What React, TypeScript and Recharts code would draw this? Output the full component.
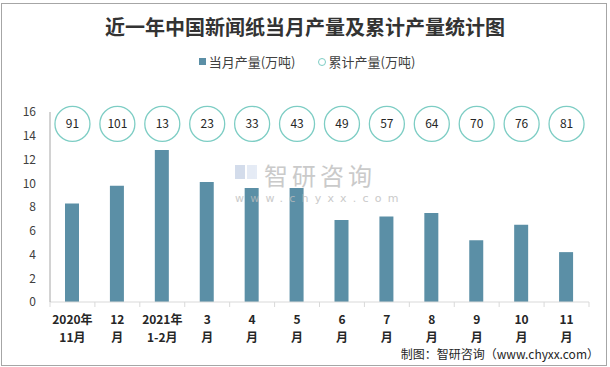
import React from 'react';
import { ComposedChart, Bar, Line, XAxis, YAxis } from 'recharts';

const MONTH_LINE1 = ['2020年', '12', '2021年', '3', '4', '5', '6', '7', '8', '9', '10', '11'];
const MONTH_LINE2 = ['11月', '月', '1-2月', '月', '月', '月', '月', '月', '月', '月', '月', '月'];
const MONTHLY = [8.3, 9.8, 12.8, 10.1, 9.6, 9.6, 6.9, 7.2, 7.5, 5.2, 6.5, 4.2];
const CUMULATIVE = [91, 101, 13, 23, 33, 43, 49, 57, 64, 70, 76, 81];
// helper row: the cumulative bubbles sit on one line near the top of the axis
const BUBBLE_ROW = 15;
const Y_TICKS = [0, 2, 4, 6, 8, 10, 12, 14, 16];

const BAR_COLOR = '#5b8fa6';
const RING_COLOR = '#7dcdc4';
const FONT = '"Noto Sans CJK SC", "Noto Sans", sans-serif';

const data = MONTH_LINE1.map((m, i) => ({
    key: String(i),
    line1: m,
    line2: MONTH_LINE2[i],
    monthly: MONTHLY[i],
    cumulative: CUMULATIVE[i],
    row: BUBBLE_ROW,
}));

// tick y comes in below the axis by tickSize + tickMargin (8px)
const MonthTick = (props: any) => {
    const { x, y, payload, index, width, visibleTicksCount } = props;
    const d = data[Number(payload.value)];
    const band = (width || 539) / (visibleTicksCount || 12);
    const left = x - band / 2;
    const ay = y - 8;
    return (
        <g>
            <line x1={left} y1={ay} x2={left} y2={ay + 5} stroke="#d9d9d9" />
            {index === data.length - 1 && (
                <line x1={x + band / 2} y1={ay} x2={x + band / 2} y2={ay + 5} stroke="#d9d9d9" />
            )}
            <text x={x} y={ay + 22} textAnchor="middle" fontSize={12} fontWeight="bold" fill="#262626" fontFamily={FONT}>
                {d.line1}
            </text>
            <text x={x} y={ay + 40} textAnchor="middle" fontSize={12} fontWeight="bold" fill="#262626" fontFamily={FONT}>
                {d.line2}
            </text>
        </g>
    );
};

const Bubble = (props: any) => {
    const { cx, cy, payload } = props;
    return (
        <g key={`b-${payload.key}`}>
            <circle cx={cx} cy={cy} r={17.5} fill="#fff" stroke={RING_COLOR} strokeWidth={1.3} />
            <text x={cx} y={cy + 4} textAnchor="middle" fontSize={12} fill="#262626" fontFamily={FONT}>
                {payload.cumulative}
            </text>
        </g>
    );
};

export default function App() {
    return (
        <div style={{ position: 'absolute', left: 0, top: 0, width: 610, height: 367, background: '#fff', fontFamily: FONT }}>
            <div style={{ position: 'absolute', left: 1, top: 3, width: 604, height: 361, border: '1px solid #a6a6a6' }} />
            <div style={{ position: 'absolute', left: 0, top: 12, width: 610, textAlign: 'center', fontSize: 20, fontWeight: 'bold', color: '#333', fontFamily: FONT }}>
                近一年中国新闻纸当月产量及累计产量统计图
            </div>
            <div style={{ position: 'absolute', left: 0, top: 52, width: 614, display: 'flex', justifyContent: 'center', alignItems: 'center', fontSize: 13, color: '#404040' }}>
                <span style={{ display: 'inline-block', width: 7, height: 7, background: BAR_COLOR, marginRight: 3 }} />
                <span>当月产量(万吨)</span>
                <span style={{ display: 'inline-block', width: 6, height: 6, borderRadius: '50%', border: `1.3px solid ${RING_COLOR}`, marginLeft: 22, marginRight: 3 }} />
                <span>累计产量(万吨)</span>
            </div>
            <ComposedChart width={610} height={367} data={data} margin={{ top: 112, right: 21, bottom: 0, left: 0 }}>
                <XAxis
                    dataKey="key"
                    axisLine={{ stroke: '#d9d9d9' }}
                    tickLine={false}
                    interval={0}
                    tick={<MonthTick />}
                    height={65}
                />
                <YAxis
                    width={50}
                    domain={[0, 16]}
                    ticks={Y_TICKS}
                    interval={0}
                    axisLine={{ stroke: '#a6a6a6' }}
                    tickLine={false}
                    tickMargin={8}
                    tick={{ fill: '#404040', fontSize: 12, fontFamily: FONT }}
                />
                <Bar dataKey="monthly" fill={BAR_COLOR} barSize={14} isAnimationActive={false} />
                <Line dataKey="row" stroke="none" dot={<Bubble />} activeDot={false} isAnimationActive={false} legendType="none" />
            </ComposedChart>
            <div style={{ position: 'absolute', left: 235, top: 165, width: 22, height: 14, opacity: 0.45, display: 'flex', gap: 2 }}>
                <div style={{ width: 10, height: 14, background: '#9fb3d3' }} />
                <div style={{ width: 10, height: 14, background: '#c7d5ea' }} />
            </div>
            <div style={{ position: 'absolute', left: 264, top: 164, fontSize: 24, lineHeight: '22px', letterSpacing: 4, color: '#bdbdbd', opacity: 0.8 }}>
                智研咨询
            </div>
            <div style={{ position: 'absolute', left: 235, top: 193, fontSize: 11, lineHeight: '11px', letterSpacing: 6.2, color: '#bdbdbd', opacity: 0.8, fontFamily: '"DejaVu Sans", sans-serif' }}>
                www.chyxx.com
            </div>
            <div style={{ position: 'absolute', right: 11, top: 345, fontSize: 12, color: '#262626', fontFamily: FONT }}>
                制图：智研咨询（www.chyxx.com）
            </div>
        </div>
    );
}
